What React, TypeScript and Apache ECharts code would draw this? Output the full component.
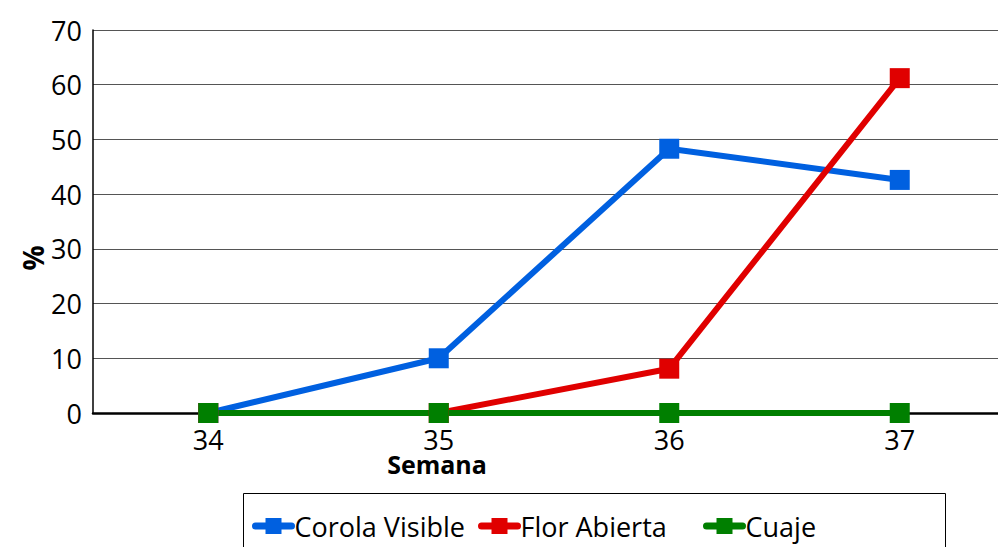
import React, { useEffect, useRef } from "react";
import * as echarts from "echarts";

const weeks = ["34", "35", "36", "37"];
const corolaVisible = [0, 10, 48.3, 42.6];
const florAbierta = [0, 0, 8.1, 61.2];
const cuaje = [0, 0, 0, 0];
const yTicks = { min: 0, max: 70, interval: 10 };

const FONT = "'Open Sans', sans-serif";

export default function App() {
  const ref = useRef<HTMLDivElement>(null);
  useEffect(() => {
    if (!ref.current) return;
    const chart = echarts.init(ref.current, null, { renderer: "svg" });
    const mk = (name: string, data: number[], color: string) => ({
      name,
      type: "line",
      data,
      symbol: "rect",
      symbolSize: 20,
      lineStyle: { width: 6, color },
      itemStyle: { color },
      color,
    });
    const legendBase = {
      orient: "horizontal",
      top: 511,
      padding: 0,
      itemWidth: 36,
      itemHeight: 20,
      itemGap: 0,
      selectedMode: false,
      lineStyle: { width: 7, cap: "round" },
      textStyle: { fontFamily: FONT, fontSize: 27, color: "#000", lineHeight: 30, padding: [0, 0, 0, -2] },
    };
    chart.setOption({
      animation: false,
      grid: { left: 93, top: 30, width: 922, bottom: 134 },
      xAxis: {
        type: "category",
        data: weeks,
        boundaryGap: true,
        axisLine: { lineStyle: { color: "#000", width: 2.5 } },
        axisTick: { show: false },
        axisLabel: { fontFamily: FONT, fontSize: 27, color: "#000", margin: 13 },
      },
      yAxis: {
        type: "value",
        min: yTicks.min,
        max: yTicks.max,
        interval: yTicks.interval,
        axisLine: { show: true, lineStyle: { color: "#000", width: 1.5 } },
        axisTick: { show: false },
        axisLabel: { fontFamily: FONT, fontSize: 27, color: "#000", margin: 11 },
        splitLine: { lineStyle: { color: "#555", width: 1 } },
      },
      legend: [
        { ...legendBase, left: 252, data: ["Corola Visible"] },
        { ...legendBase, left: 478, data: ["Flor Abierta"] },
        { ...legendBase, left: 703, data: ["Cuaje"] },
      ],
      graphic: [
        {
          type: "rect",
          shape: { x: 243.5, y: 493.5, width: 702, height: 80 },
          style: { fill: "none", stroke: "#000", lineWidth: 1 },
        },
        {
          type: "text",
          x: 437,
          y: 464,
          style: {
            text: "Semana",
            font: `bold 25px ${FONT}`,
            fill: "#000",
            align: "center",
            verticalAlign: "middle",
          },
        },
        {
          type: "text",
          x: 33,
          y: 258,
          rotation: Math.PI / 2,
          style: {
            text: "%",
            font: `bold 28px ${FONT}`,
            fill: "#000",
            align: "center",
            verticalAlign: "middle",
          },
        },
      ],
      series: [
        mk("Corola Visible", corolaVisible, "#0060E0"),
        mk("Flor Abierta", florAbierta, "#E00000"),
        mk("Cuaje", cuaje, "#007F00"),
      ],
    });
    return () => chart.dispose();
  }, []);
  return (
    <div style={{ position: "fixed", left: 0, top: 0, width: 998, height: 547, overflow: "hidden", background: "#fff" }}>
      <div ref={ref} style={{ width: 1020, height: 547 }} />
    </div>
  );
}
